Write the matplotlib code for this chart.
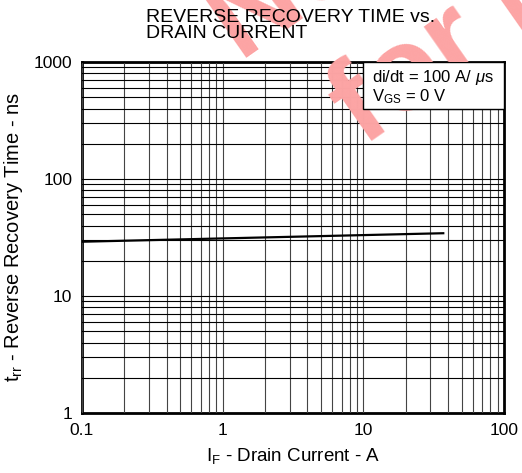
import matplotlib
matplotlib.use("Agg")
import matplotlib.pyplot as plt
from matplotlib.patches import Rectangle

plt.rcParams['font.family'] = ['Liberation Sans', 'DejaVu Sans']
plt.rcParams['mathtext.fontset'] = 'custom'
plt.rcParams['mathtext.rm'] = 'Liberation Sans'
plt.rcParams['mathtext.it'] = 'Liberation Sans:italic'

# data
current = [0.1, 37]
trr = [29.1, 34.4]

x_ticks = [0.1, 1, 10, 100]
x_labels = ["0.1", "1", "10", "100"]
y_ticks = [1, 10, 100, 1000]
y_labels = ["1", "10", "100", "1000"]

W, H = 522, 473
fig = plt.figure(figsize=(W / 100, H / 100), dpi=100)
ax = fig.add_axes([82 / W, 1 - 413 / H, (504 - 82) / W, (413 - 62) / H])

ax.set_xscale('log')
ax.set_yscale('log')
ax.set_xlim(0.1, 100)
ax.set_ylim(1, 1000)

ax.set_axisbelow(False)
ax.xaxis.grid(True, which='both', color='#444444', lw=0.8)
ax.yaxis.grid(True, which='both', color='black', lw=0.8)

ax.set_xticks(x_ticks)
ax.set_xticklabels(x_labels)
ax.set_yticks(y_ticks)
ax.set_yticklabels(y_labels)
ax.tick_params(which='both', length=0, labelsize=12.5, pad=7)
for s in ax.spines.values():
    s.set_linewidth(2)

ax.plot(current, trr, color='black', lw=1.6, zorder=4)

# condition box in the upper right
ax.add_patch(Rectangle((10, 400), 90, 600, facecolor='white', edgecolor='black',
                       lw=1, zorder=2.6))
ax.text(11.6, 740, r"di/dt = 100 A/ $\mu$s", fontsize=12, va='center', zorder=5)
ax.text(11.6, 505, r"V$_{\mathrm{GS}}$ = 0 V", fontsize=12, va='center', zorder=5)

ax.set_xlabel(r"I$_{\mathrm{F}}$ - Drain Current - A", fontsize=13.5, labelpad=6)
ax.set_ylabel(r"t$_{\mathrm{rr}}$ - Reverse Recovery Time - ns", fontsize=14.5, labelpad=6)

fig.text(146 / W, 1 - 9 / H, "REVERSE RECOVERY TIME vs.\nDRAIN CURRENT",
         fontsize=14, ha='left', va='top', linespacing=0.95)

# watermark
wm = dict(fontsize=85, fontweight='bold', color='#fca4a4', rotation=35,
          rotation_mode='anchor', ha='left', va='baseline',
          transform=fig.transFigure, clip_on=False, zorder=2.55)
ax.text(240 / W, 1 - 62 / H, "Not Recommended", **wm)
ax.text(363 / W, 1 - 147 / H, "for New Design", **wm)

fig.savefig("out.png", dpi=100)
